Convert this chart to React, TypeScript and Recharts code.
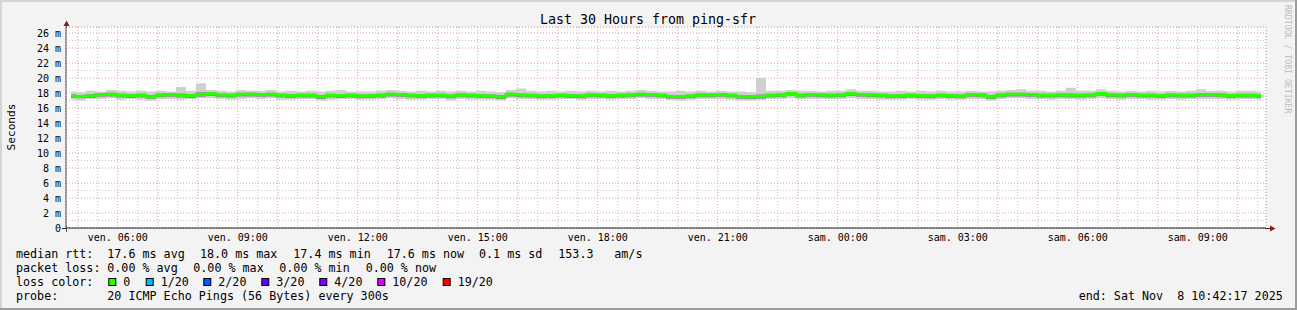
import React from 'react';
import { ComposedChart, Area, Line, XAxis, YAxis, CartesianGrid } from 'recharts';

// Fri 04:42:17 -> Sat 10:42:17 (30 hours), values every 15 minutes, in ms
const START_HOUR = 4 + 42 / 60 + 17 / 3600;
const END_HOUR = START_HOUR + 30;
const STEP_HOURS = 0.25;

const median = [
  17.6, 17.55, 17.6, 17.8, 17.85, 17.7, 17.65, 17.7, 17.5, 17.75,
  17.8, 17.7, 17.65, 17.8, 17.9, 17.75, 17.7, 17.85, 17.85, 17.8,
  17.85, 17.7, 17.65, 17.7, 17.7, 17.5, 17.7, 17.65, 17.7, 17.6,
  17.65, 17.7, 17.85, 17.8, 17.7, 17.65, 17.7, 17.7, 17.6, 17.75,
  17.7, 17.65, 17.6, 17.5, 17.85, 17.75, 17.7, 17.6, 17.65, 17.7,
  17.65, 17.6, 17.75, 17.7, 17.65, 17.7, 17.75, 17.85, 17.8, 17.7,
  17.55, 17.55, 17.6, 17.75, 17.75, 17.8, 17.7, 17.55, 17.5, 17.55,
  17.7, 17.75, 17.95, 17.7, 17.8, 17.75, 17.7, 17.75, 17.9, 17.8,
  17.75, 17.7, 17.6, 17.65, 17.7, 17.65, 17.6, 17.7, 17.65, 17.6,
  17.8, 17.75, 17.5, 17.75, 17.85, 17.85, 17.8, 17.7, 17.7, 17.75,
  17.7, 17.7, 17.75, 17.95, 17.75, 17.7, 17.8, 17.7, 17.7, 17.65,
  17.75, 17.7, 17.7, 17.8, 17.8, 17.75, 17.65, 17.7, 17.7, 17.65,
];

const smokeHi = [
  18.2, 18.1, 18.3, 18.2, 18.4, 18.3, 18.2, 18.3, 18.2, 18.3,
  18.2, 18.8, 18.3, 19.3, 18.4, 18.3, 18.2, 18.4, 18.3, 18.3,
  18.4, 18.2, 18.3, 18.2, 18.3, 18.2, 18.3, 18.4, 18.2, 18.2,
  18.2, 18.3, 18.4, 18.3, 18.2, 18.3, 18.2, 18.3, 18.2, 18.3,
  18.2, 18.3, 18.2, 18.1, 18.4, 18.6, 18.3, 18.2, 18.3, 18.2,
  18.3, 18.2, 18.3, 18.2, 18.3, 18.2, 18.3, 18.4, 18.3, 18.2,
  18.2, 18.3, 18.2, 18.3, 18.2, 18.3, 18.2, 18.2, 18.1, 20.0,
  18.3, 18.3, 18.4, 18.3, 18.3, 18.2, 18.3, 18.3, 18.5, 18.3,
  18.3, 18.2, 18.2, 18.3, 18.2, 18.3, 18.2, 18.3, 18.2, 18.2,
  18.3, 18.2, 18.2, 18.3, 18.4, 18.5, 18.3, 18.3, 18.2, 18.3,
  18.7, 18.3, 18.3, 18.5, 18.3, 18.2, 18.3, 18.2, 18.3, 18.2,
  18.3, 18.2, 18.3, 18.5, 18.3, 18.3, 18.2, 18.3, 18.3, 18.2,
];

const smokeLo = [
  17.1, 17.0, 17.2, 17.2, 17.3, 17.1, 17.2, 17.1, 17.0, 17.2,
  17.2, 17.1, 17.2, 17.3, 17.3, 17.2, 17.1, 17.2, 17.3, 17.2,
  17.3, 17.1, 17.1, 17.2, 17.2, 17.0, 17.1, 17.2, 17.2, 17.1,
  17.1, 17.2, 17.3, 17.2, 17.1, 17.1, 17.2, 17.2, 17.0, 17.2,
  17.1, 17.1, 17.1, 17.0, 17.3, 17.2, 17.2, 17.1, 17.1, 17.2,
  17.2, 17.1, 17.2, 17.2, 17.1, 17.2, 17.2, 17.3, 17.2, 17.2,
  17.1, 17.0, 17.1, 17.2, 17.2, 17.2, 17.1, 17.0, 17.0, 17.1,
  17.2, 17.2, 17.3, 17.2, 17.2, 17.2, 17.2, 17.2, 17.3, 17.2,
  17.2, 17.1, 17.1, 17.1, 17.2, 17.1, 17.1, 17.2, 17.1, 17.1,
  17.2, 17.2, 17.0, 17.2, 17.3, 17.3, 17.2, 17.2, 17.1, 17.2,
  17.2, 17.1, 17.2, 17.3, 17.2, 17.1, 17.2, 17.2, 17.1, 17.1,
  17.2, 17.1, 17.2, 17.2, 17.2, 17.2, 17.1, 17.2, 17.2, 17.1,
];

const darkHi = [
  17.8, 17.75, 17.85, 18.0, 18.05, 17.9, 17.85, 17.9, 17.75, 17.95,
  18.0, 17.95, 17.85, 18.1, 18.1, 17.95, 17.9, 18.05, 18.05, 18.0,
  18.05, 17.9, 17.85, 17.9, 17.9, 17.75, 17.9, 17.85, 17.9, 17.8,
  17.85, 17.9, 18.05, 18.0, 17.9, 17.85, 17.9, 17.9, 17.8, 17.95,
  17.9, 17.85, 17.8, 17.75, 18.05, 17.95, 17.9, 17.8, 17.85, 17.9,
  17.85, 17.8, 17.95, 17.9, 17.85, 17.9, 17.95, 18.05, 18.0, 17.9,
  17.75, 17.75, 17.8, 17.95, 17.95, 18.0, 17.9, 17.75, 17.7, 17.8,
  17.9, 17.95, 18.15, 17.9, 18.0, 17.95, 17.9, 17.95, 18.1, 18.0,
  17.95, 17.9, 17.8, 17.85, 17.9, 17.85, 17.8, 17.9, 17.85, 17.8,
  18.0, 17.95, 17.75, 17.95, 18.05, 18.05, 18.0, 17.9, 17.9, 17.95,
  17.95, 17.9, 17.95, 18.15, 17.95, 17.9, 18.0, 17.9, 17.9, 17.85,
  17.95, 17.9, 17.9, 18.0, 18.0, 17.95, 17.85, 17.9, 17.9, 17.85,
];

const darkLo = [
  17.35, 17.3, 17.35, 17.5, 17.55, 17.4, 17.35, 17.4, 17.25, 17.45,
  17.5, 17.4, 17.35, 17.5, 17.6, 17.45, 17.4, 17.55, 17.55, 17.5,
  17.55, 17.4, 17.35, 17.4, 17.4, 17.2, 17.4, 17.35, 17.4, 17.3,
  17.35, 17.4, 17.55, 17.5, 17.4, 17.35, 17.4, 17.4, 17.3, 17.45,
  17.4, 17.35, 17.3, 17.2, 17.55, 17.45, 17.4, 17.3, 17.35, 17.4,
  17.35, 17.3, 17.45, 17.4, 17.35, 17.4, 17.45, 17.55, 17.5, 17.4,
  17.25, 17.25, 17.3, 17.45, 17.45, 17.5, 17.4, 17.25, 17.2, 17.25,
  17.4, 17.45, 17.65, 17.4, 17.5, 17.45, 17.4, 17.45, 17.6, 17.5,
  17.45, 17.4, 17.3, 17.35, 17.4, 17.35, 17.3, 17.4, 17.35, 17.3,
  17.5, 17.45, 17.2, 17.45, 17.55, 17.55, 17.5, 17.4, 17.4, 17.45,
  17.4, 17.4, 17.45, 17.65, 17.45, 17.4, 17.5, 17.4, 17.4, 17.35,
  17.45, 17.4, 17.4, 17.5, 17.5, 17.45, 17.35, 17.4, 17.4, 17.35,
];

const yTicks = [0, 2, 4, 6, 8, 10, 12, 14, 16, 18, 20, 22, 24, 26];
const yMinorTicks = [1, 3, 5, 7, 9, 11, 13, 15, 17, 19, 21, 23, 25];
const xLabelTicks = [6, 9, 12, 15, 18, 21, 24, 27, 30, 33];
const xHourTicks = [5, 6, 7, 8, 9, 10, 11, 12, 13, 14, 15, 16, 17, 18, 19, 20, 21, 22, 23, 24, 25, 26, 27, 28, 29, 30, 31, 32, 33, 34];
const xHalfTicks = [5.5, 6.5, 7.5, 8.5, 9.5, 10.5, 11.5, 12.5, 13.5, 14.5, 15.5, 16.5, 17.5, 18.5, 19.5, 20.5, 21.5, 22.5, 23.5, 24.5, 25.5, 26.5, 27.5, 28.5, 29.5, 30.5, 31.5, 32.5, 33.5, 34.5];
const Y_MAX = 26.8;

const legendRtt = [
  { x: 16, text: 'median rtt:' },
  { x: 107.3, text: '17.6 ms avg' },
  { x: 200, text: '18.0 ms max' },
  { x: 293.3, text: '17.4 ms min' },
  { x: 386.7, text: '17.6 ms now' },
  { x: 479, text: '0.1 ms sd' },
  { x: 558.3, text: '153.3' },
  { x: 614.3, text: 'am/s' },
];
const legendLoss = [
  { x: 16, text: 'packet loss:' },
  { x: 107.3, text: '0.00 % avg' },
  { x: 193.3, text: '0.00 % max' },
  { x: 279.3, text: '0.00 % min' },
  { x: 365.7, text: '0.00 % now' },
];
const lossColors = [
  { x: 108.3, label: '0', color: '#26ff00' },
  { x: 145.7, label: '1/20', color: '#00b8ff' },
  { x: 203.3, label: '2/20', color: '#0059ff' },
  { x: 261.3, label: '3/20', color: '#5e00ff' },
  { x: 319.3, label: '4/20', color: '#7e00ff' },
  { x: 377.3, label: '10/20', color: '#dd00ff' },
  { x: 442.7, label: '19/20', color: '#ff0000' },
];

const data = median.map((m, i) => ({
  t: START_HOUR + (i + 0.5) * STEP_HOURS,
  median: m,
  smoke: [smokeLo[i], smokeHi[i]],
  dark: [darkLo[i], darkHi[i]],
}));

const MONO = 'DejaVu Sans Mono, monospace';

const fmtHour = (h: number) =>
  `${h < 24 ? 'ven.' : 'sam.'} ${String(h % 24).padStart(2, '0')}:00`;

const YTick = (props: any) => {
  const { x, y, payload } = props;
  return (
    <text x={x - 5} y={y} dy="0.36em" textAnchor="end" fontFamily={MONO} fontSize={10} fill="#000">
      {payload.value === 0 ? '0' : `${payload.value} m`}
    </text>
  );
};

const XTick = (props: any) => {
  const { x, y, payload } = props;
  return (
    <text x={x} y={y + 13} textAnchor="middle" fontFamily={MONO} fontSize={10} fill="#000">
      {fmtHour(payload.value)}
    </text>
  );
};

export default function App() {
  const lf = { fontFamily: MONO, fontSize: 11.7, fill: '#000' } as const;
  return (
    <div style={{ position: 'absolute', left: 0, top: 0, width: 1297, height: 310, background: '#f3f3f3' }}>
      <ComposedChart
        width={1297}
        height={310}
        data={data}
        margin={{ top: 27, right: 31, bottom: 62, left: 16 }}
      >
        <XAxis xAxisId="half" dataKey="t" type="number" domain={[START_HOUR, END_HOUR]} ticks={xHalfTicks} hide allowDataOverflow />
        <XAxis xAxisId="hour" dataKey="t" type="number" domain={[START_HOUR, END_HOUR]} ticks={xHourTicks} hide allowDataOverflow />
        <YAxis yAxisId="minor" type="number" domain={[0, Y_MAX]} ticks={yMinorTicks} hide allowDataOverflow />
        <CartesianGrid xAxisId="half" yAxisId="minor" stroke="#c4c4c4" strokeDasharray="1 2" fill="#ffffff" fillOpacity={1} />
        <CartesianGrid xAxisId="hour" yAxisId="main" stroke="#e39a9a" strokeDasharray="1 2" />
        <XAxis
          dataKey="t"
          type="number"
          domain={[START_HOUR, END_HOUR]}
          ticks={xLabelTicks}
          interval={0}
          allowDataOverflow
          height={20}
          tickSize={0}
          tickMargin={0}
          tickLine={false}
          axisLine={{ stroke: '#222', strokeWidth: 1 }}
          tick={<XTick />}
        />
        <YAxis
          yAxisId="main"
          type="number"
          domain={[0, Y_MAX]}
          ticks={yTicks}
          interval={0}
          allowDataOverflow
          width={50}
          tickSize={0}
          tickMargin={0}
          tickLine={false}
          axisLine={{ stroke: '#555', strokeWidth: 1 }}
          tick={<YTick />}
        />
        <Area yAxisId="main" dataKey="smoke" type="step" stroke="none" fill="#cfcfcf" fillOpacity={1} isAnimationActive={false} dot={false} activeDot={false} />
        <Area yAxisId="main" dataKey="dark" type="step" stroke="none" fill="#8e8e8e" fillOpacity={1} isAnimationActive={false} dot={false} activeDot={false} />
        <Line yAxisId="main" dataKey="median" type="step" stroke="#26ff00" strokeWidth={3} dot={false} activeDot={false} isAnimationActive={false} />
      </ComposedChart>
      <svg width={1297} height={310} style={{ position: 'absolute', left: 0, top: 0, pointerEvents: 'none' }}>
        {/* frame */}
        <rect x={0} y={0} width={1297} height={2} fill="#d4d4d4" />
        <rect x={0} y={0} width={2} height={310} fill="#d4d4d4" />
        <rect x={0} y={308} width={1297} height={2} fill="#9c9c9c" />
        <rect x={1295} y={0} width={2} height={310} fill="#9c9c9c" />
        {/* axis extensions and arrows */}
        <line x1={62} y1={228.5} x2={67} y2={228.5} stroke="#222" />
        <line x1={1265} y1={228.5} x2={1271} y2={228.5} stroke="#222" />
        <line x1={66.5} y1={226} x2={66.5} y2={232} stroke="#555" />
        <line x1={66.5} y1={22} x2={66.5} y2={28} stroke="#555" />
        <polygon points="63.5,26 69.5,26 66.5,20.5" fill="#8b1a1a" />
        <polygon points="1270,225.5 1270,231.5 1275.5,228.5" fill="#8b1a1a" />
        {/* title */}
        <text x={648} y={24} textAnchor="middle" fontFamily={MONO} fontSize={13.3} fill="#000">
          Last 30 Hours from ping-sfr
        </text>
        <text x={14.5} y={127} transform="rotate(-90 14.5 127)" textAnchor="middle" fontFamily={MONO} fontSize={11.2} fill="#000">
          Seconds
        </text>
        <text x={1285} y={5} transform="rotate(90 1285 5)" textAnchor="start" fontFamily={MONO} fontSize={8.2} fill="#bdbdbd">
          RRDTOOL / TOBI OETIKER
        </text>
        {/* legend */}
        {legendRtt.map((d) => (
          <text key={'r' + d.x} x={d.x} y={258} {...lf}>{d.text}</text>
        ))}
        {legendLoss.map((d) => (
          <text key={'l' + d.x} x={d.x} y={272} {...lf}>{d.text}</text>
        ))}
        <text x={16} y={286} {...lf}>loss color:</text>
        {lossColors.map((d) => (
          <g key={'c' + d.label}>
            <rect x={d.x + 0.5} y={278.5} width={7} height={7} fill={d.color} stroke="#000" strokeWidth={1} />
            <text x={d.x + 15} y={286} {...lf}>{d.label}</text>
          </g>
        ))}
        <text x={16} y={299.5} {...lf}>probe:</text>
        <text x={107.3} y={299.5} {...lf}>20 ICMP Echo Pings (56 Bytes) every 300s</text>
        <text x={1078.7} y={299.5} {...lf} xmlSpace="preserve">end: Sat Nov  8 10:42:17 2025</text>
      </svg>
    </div>
  );
}
